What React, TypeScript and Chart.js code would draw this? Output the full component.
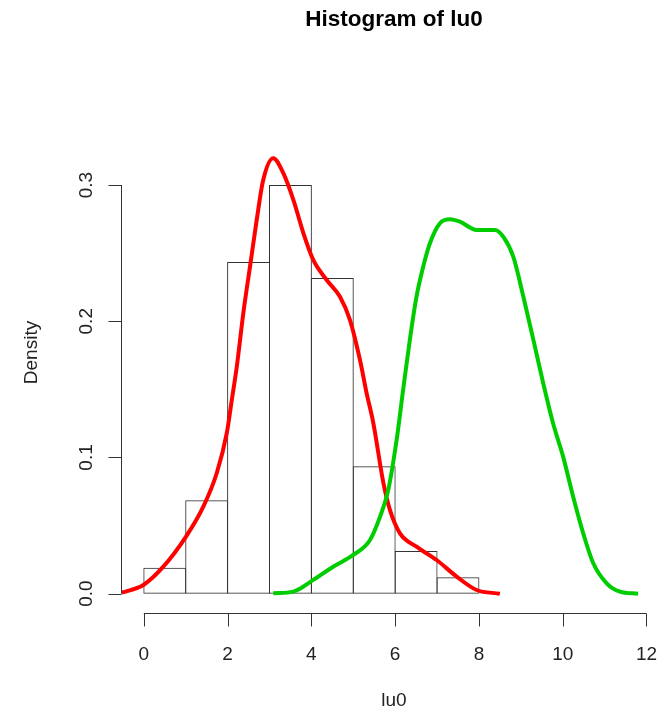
import React, { useEffect, useRef } from "react";
import { Chart, registerables } from "chart.js";

Chart.register(...registerables);

// Histogram bins (density) for lu0
const binMids = [0.5, 1.5, 2.5, 3.5, 4.5, 5.5, 6.5, 7.5];
const binDensity = [0.019, 0.0686, 0.2435, 0.3, 0.2318, 0.0935, 0.0313, 0.012];

// Red density curve
const redX = [-0.53, -0.01, 0.465, 1.007, 1.42, 1.74, 1.98, 2.1, 2.22, 2.375, 2.535, 2.695, 2.85, 3.09, 3.33, 3.57, 3.81, 4.045, 4.365, 4.68, 4.92, 5.16, 5.32, 5.48, 5.72, 5.875, 6.115, 6.51, 6.99, 7.47, 7.945, 8.5];
const redY = [0.0007, 0.0064, 0.0198, 0.0419, 0.0639, 0.0884, 0.1178, 0.1422, 0.1667, 0.2059, 0.2401, 0.2744, 0.3037, 0.3197, 0.3087, 0.2891, 0.2646, 0.245, 0.2303, 0.2181, 0.201, 0.1716, 0.1471, 0.1251, 0.0811, 0.0615, 0.0443, 0.0345, 0.0247, 0.0125, 0.0027, 0.0];

// Green density curve
const greenX = [3.09, 3.57, 4.045, 4.52, 5.0, 5.4, 5.64, 5.835, 6.035, 6.19, 6.35, 6.51, 6.67, 6.83, 7.07, 7.31, 7.545, 7.945, 8.38, 8.58, 8.82, 9.06, 9.3, 9.535, 9.77, 10.01, 10.25, 10.49, 10.73, 11.05, 11.365, 11.8];
const greenY = [0.0003, 0.0015, 0.0101, 0.0198, 0.0284, 0.0394, 0.0565, 0.0761, 0.1128, 0.1496, 0.1863, 0.2181, 0.2401, 0.2573, 0.272, 0.2749, 0.2731, 0.267, 0.267, 0.2621, 0.2474, 0.2181, 0.1863, 0.1545, 0.1251, 0.1006, 0.0712, 0.0443, 0.0223, 0.0076, 0.0015, 0.0];

const xTicks = [0, 2, 4, 6, 8, 10, 12];
const yTicks = [0, 0.1, 0.2, 0.3];
const yTickLabels = ["0.0", "0.1", "0.2", "0.3"];

const titleText = "Histogram of lu0";
const xLabel = "lu0";
const yLabel = "Density";

const FONT = "'Liberation Sans', Arial, sans-serif";

const rAxesPlugin = {
  id: "rAxes",
  afterDraw(chart: any) {
    const ctx = chart.ctx;
    const xs = chart.scales.x;
    const ys = chart.scales.y;
    const area = chart.chartArea;
    ctx.save();
    ctx.strokeStyle = "#333";
    ctx.fillStyle = "#222";
    ctx.lineWidth = 1;

    // x axis
    const yAx = Math.round(area.bottom) + 0.5;
    const x0 = xs.getPixelForValue(xTicks[0]);
    const x1 = xs.getPixelForValue(xTicks[xTicks.length - 1]);
    ctx.beginPath();
    ctx.moveTo(x0, yAx);
    ctx.lineTo(x1, yAx);
    xTicks.forEach((t) => {
      const px = Math.round(xs.getPixelForValue(t)) + 0.5;
      ctx.moveTo(px, yAx);
      ctx.lineTo(px, yAx + 13);
    });
    ctx.stroke();
    ctx.font = `19px ${FONT}`;
    ctx.textAlign = "center";
    ctx.textBaseline = "middle";
    xTicks.forEach((t) => {
      ctx.fillText(String(t), xs.getPixelForValue(t), yAx + 41);
    });

    // y axis
    const xAx = Math.round(area.left) + 0.5;
    const yb = ys.getPixelForValue(yTicks[0]);
    const yt = ys.getPixelForValue(yTicks[yTicks.length - 1]);
    ctx.beginPath();
    ctx.moveTo(xAx, yb);
    ctx.lineTo(xAx, yt);
    yTicks.forEach((t) => {
      const py = Math.round(ys.getPixelForValue(t)) + 0.5;
      ctx.moveTo(xAx, py);
      ctx.lineTo(xAx - 13, py);
    });
    ctx.stroke();
    yTicks.forEach((t, i) => {
      ctx.save();
      ctx.translate(xAx - 35, ys.getPixelForValue(t));
      ctx.rotate(-Math.PI / 2);
      ctx.fillText(yTickLabels[i], 0, 0);
      ctx.restore();
    });

    // axis titles
    ctx.fillText(xLabel, (area.left + area.right) / 2, 701);
    ctx.save();
    ctx.translate(32, (area.top + area.bottom) / 2);
    ctx.rotate(-Math.PI / 2);
    ctx.fillText(yLabel, 0, 0);
    ctx.restore();

    // main title
    ctx.fillStyle = "#000";
    ctx.font = `bold 22.5px ${FONT}`;
    ctx.fillText(titleText, (area.left + area.right) / 2, 20);
    ctx.restore();
  },
};

export default function App() {
  const ref = useRef<HTMLCanvasElement | null>(null);
  useEffect(() => {
    if (!ref.current) return;
    const chart = new Chart(ref.current, {
      type: "bar",
      data: {
        datasets: [
          {
            type: "line",
            label: "green",
            data: greenX.map((x, i) => ({ x, y: greenY[i] })),
            borderColor: "#00CD00",
            borderWidth: 4,
            pointRadius: 0,
            fill: false,
            cubicInterpolationMode: "monotone",
          } as any,
          {
            type: "line",
            label: "red",
            data: redX.map((x, i) => ({ x, y: redY[i] })),
            borderColor: "#FF0000",
            borderWidth: 4,
            pointRadius: 0,
            fill: false,
            cubicInterpolationMode: "monotone",
          } as any,
          {
            type: "bar",
            label: "hist",
            data: binMids.map((x, i) => ({ x, y: binDensity[i] })),
            backgroundColor: "rgba(255,255,255,0)",
            borderColor: "#333",
            borderWidth: 1,
            borderSkipped: false,
            inflateAmount: 0,
            barPercentage: 1.024,
            categoryPercentage: 1,
            grouped: false,
          } as any,
        ],
      },
      options: {
        animation: false,
        responsive: false,
        layout: { padding: { left: 121, right: 2, top: 92, bottom: 100 } },
        scales: {
          x: { type: "linear", min: -0.545, max: 12.49, offset: false, display: false },
          y: { type: "linear", min: -0.0142, max: 0.3683, display: false },
        },
        plugins: {
          legend: { display: false },
          tooltip: { enabled: false },
          title: { display: false },
        },
      } as any,
      plugins: [rAxesPlugin],
    });
    return () => chart.destroy();
  }, []);
  return (
    <div style={{ position: "absolute", left: 0, top: 0, width: 669, height: 713, background: "#fff" }}>
      <canvas ref={ref} width={669} height={713} />
    </div>
  );
}
